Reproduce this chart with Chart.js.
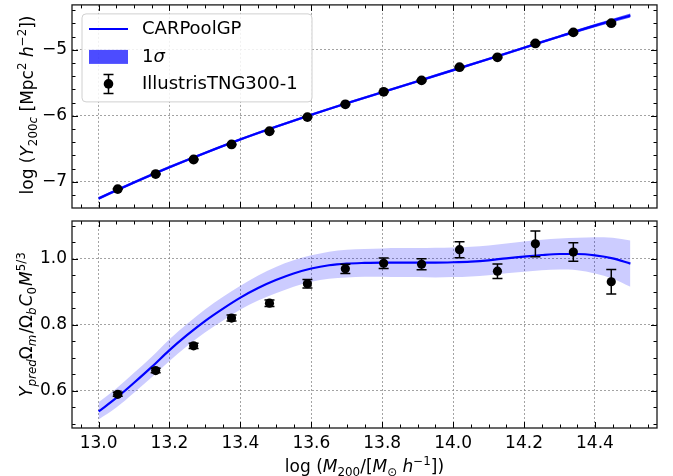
<!DOCTYPE html>
<html><head><meta charset="utf-8">
<script src="https://cdn.jsdelivr.net/npm/chart.js@4/dist/chart.umd.min.js"></script>
<style>
html,body{margin:0;padding:0;background:#fff;}
#wrap{position:relative;width:673px;height:476px;background:#fff;}
#c1{position:absolute;left:0;top:0;}
#c2{position:absolute;left:0;top:215px;}
</style></head><body>
<div id="wrap"><canvas id="c1" width="673" height="215"></canvas><canvas id="c2" width="673" height="261"></canvas></div>
<script>
// ---------------- data ----------------
const massBins = [13.054, 13.161, 13.268, 13.375, 13.482, 13.589, 13.696, 13.804, 13.911, 14.018, 14.125, 14.232, 14.339, 14.446];
const tngLogY = [-7.109, -6.881, -6.661, -6.433, -6.233, -6.019, -5.825, -5.636, -5.463, -5.263, -5.113, -4.904, -4.736, -4.597];
const tngLogYErr = [0.004, 0.005, 0.005, 0.005, 0.005, 0.006, 0.006, 0.007, 0.008, 0.010, 0.010, 0.016, 0.012, 0.017];
const tngRatio = [0.589, 0.661, 0.736, 0.820, 0.865, 0.924, 0.969, 0.986, 0.983, 1.027, 0.962, 1.045, 1.020, 0.930];
const tngRatioErr = [0.006, 0.007, 0.008, 0.009, 0.010, 0.013, 0.014, 0.016, 0.017, 0.024, 0.022, 0.039, 0.028, 0.037];

const gpMassTop = [13.0, 13.1, 13.2, 13.3, 13.4, 13.5, 13.6, 13.7, 13.8, 13.9, 14.0, 14.1, 14.2, 14.3, 14.4, 14.5];
const gpLogY = [-7.250, -7.008, -6.777, -6.561, -6.356, -6.165, -5.983, -5.810, -5.642, -5.476, -5.308, -5.139, -4.968, -4.798, -4.633, -4.480];
const gpLogYLow = [-7.273, -7.029, -6.797, -6.580, -6.374, -6.183, -6.001, -5.829, -5.661, -5.495, -5.328, -5.159, -4.988, -4.818, -4.657, -4.511];
const gpLogYHigh = [-7.227, -6.987, -6.757, -6.542, -6.338, -6.147, -5.965, -5.791, -5.623, -5.457, -5.288, -5.119, -4.948, -4.778, -4.609, -4.449];

const gpMass = [13.0, 13.05, 13.1, 13.15, 13.2, 13.25, 13.3, 13.35, 13.4, 13.45, 13.5, 13.55, 13.6, 13.65, 13.7, 13.75, 13.8, 13.85, 13.9, 13.95, 14.0, 14.05, 14.1, 14.15, 14.2, 14.25, 14.3, 14.35, 14.4, 14.45, 14.5];
const gpRatio = [0.537, 0.578, 0.624, 0.672, 0.723, 0.769, 0.811, 0.848, 0.882, 0.911, 0.935, 0.955, 0.970, 0.980, 0.985, 0.987, 0.988, 0.988, 0.988, 0.988, 0.989, 0.991, 0.995, 1.001, 1.006, 1.011, 1.014, 1.014, 1.010, 1.001, 0.985];
const gpRatioLow = [0.513, 0.549, 0.594, 0.641, 0.690, 0.735, 0.776, 0.812, 0.846, 0.873, 0.895, 0.915, 0.930, 0.939, 0.943, 0.945, 0.945, 0.944, 0.944, 0.943, 0.944, 0.946, 0.950, 0.956, 0.960, 0.965, 0.967, 0.965, 0.955, 0.939, 0.915];
const gpRatioHigh = [0.565, 0.607, 0.654, 0.703, 0.756, 0.803, 0.846, 0.884, 0.918, 0.949, 0.975, 0.995, 1.010, 1.021, 1.027, 1.029, 1.031, 1.032, 1.032, 1.033, 1.034, 1.036, 1.040, 1.046, 1.052, 1.057, 1.061, 1.063, 1.065, 1.063, 1.055];

const xMajorTicks = [13.0, 13.2, 13.4, 13.6, 13.8, 14.0, 14.2, 14.4];
const xTickLabels = ['13.0', '13.2', '13.4', '13.6', '13.8', '14.0', '14.2', '14.4'];
const topYTicks = [-7, -6, -5];
const topYTickLabels = ['\u22127', '\u22126', '\u22125'];
const botYTicks = [0.6, 0.8, 1.0];
const botYTickLabels = ['0.6', '0.8', '1.0'];

const legendLabels = ['CARPoolGP', '1', '\u03c3', 'IllustrisTNG300-1'];

// ---------------- helpers ----------------
const FONT = '"DejaVu Sans", sans-serif';
Chart.defaults.color = '#000';
Chart.defaults.font.family = FONT;

function pts(xs, ys) { return xs.map((x, i) => ({x: x, y: ys[i]})); }

function segFont(s, F) {
  const size = s.s ? F * 0.7 : F;
  return (s.i ? 'italic ' : '') + size.toFixed(1) + 'px ' + FONT;
}
function drawRich(ctx, segs, cx, cy, F, rot) {
  ctx.save();
  ctx.translate(cx, cy);
  if (rot) ctx.rotate(-Math.PI / 2);
  let w = 0;
  for (const s of segs) { ctx.font = segFont(s, F); w += ctx.measureText(s.t).width + (s.g || 0); }
  let x = -w / 2;
  ctx.textBaseline = 'alphabetic';
  ctx.textAlign = 'left';
  ctx.fillStyle = '#000';
  const base = F * 0.36;
  for (const s of segs) {
    ctx.font = segFont(s, F);
    let dy = 0;
    if (s.s === 'sub') dy = F * 0.22;
    if (s.s === 'sup') dy = -F * 0.42;
    ctx.fillText(s.t, x, base + dy);
    x += ctx.measureText(s.t).width + (s.g || 0);
  }
  ctx.restore();
}

function rangeVals(min, max, step) {
  const out = [];
  const start = Math.ceil(min / step - 1e-9);
  for (let k = start; k * step <= max + 1e-9; k++) out.push(+(k * step).toFixed(6));
  return out;
}

const decorPlugin = {
  id: 'decor',
  beforeDatasetDraw(chart, args, opts) {
    if (args.index !== opts.pointsIndex) return;
    const ctx = chart.ctx, xs = chart.scales.x, ys = chart.scales.y;
    ctx.save();
    ctx.strokeStyle = '#000';
    ctx.lineWidth = 1.5;
    opts.ex.forEach((xv, i) => {
      const px = xs.getPixelForValue(xv);
      const p1 = ys.getPixelForValue(opts.ey[i] - opts.err[i]);
      const p2 = ys.getPixelForValue(opts.ey[i] + opts.err[i]);
      ctx.beginPath();
      ctx.moveTo(px, p1); ctx.lineTo(px, p2);
      ctx.moveTo(px - 5, p1); ctx.lineTo(px + 5, p1);
      ctx.moveTo(px - 5, p2); ctx.lineTo(px + 5, p2);
      ctx.stroke();
    });
    ctx.restore();
  },
  afterDraw(chart, args, opts) {
    const ctx = chart.ctx, a = chart.chartArea, xs = chart.scales.x, ys = chart.scales.y;
    ctx.save();
    ctx.strokeStyle = '#000';
    ctx.lineWidth = 1;
    const tick = (vals, len, axis) => {
      vals.forEach(v => {
        if (axis === 'x') {
          const p = Math.round(xs.getPixelForValue(v)) + 0.5;
          if (p < a.left || p > a.right) return;
          ctx.beginPath();
          ctx.moveTo(p, a.bottom); ctx.lineTo(p, a.bottom - len);
          ctx.moveTo(p, a.top); ctx.lineTo(p, a.top + len);
          ctx.stroke();
        } else {
          const p = Math.round(ys.getPixelForValue(v)) + 0.5;
          if (p < a.top || p > a.bottom) return;
          ctx.beginPath();
          ctx.moveTo(a.left, p); ctx.lineTo(a.left + len, p);
          ctx.moveTo(a.right, p); ctx.lineTo(a.right - len, p);
          ctx.stroke();
        }
      });
    };
    tick(rangeVals(xs.min, xs.max, 0.05), 3.5, 'x');
    tick(xMajorTicks, 6, 'x');
    tick(rangeVals(ys.min, ys.max, opts.yMinorStep), 3.5, 'y');
    tick(opts.yMajor, 6, 'y');
    ctx.strokeStyle = '#1a1a1a';
    ctx.lineWidth = 1.3;
    ctx.strokeRect(a.left, a.top, a.right - a.left, a.bottom - a.top);
    if (opts.yTitle) drawRich(ctx, opts.yTitle, opts.yTitlePos[0], opts.yTitlePos[1], 17, true);
    if (opts.xTitle) drawRich(ctx, opts.xTitle, opts.xTitlePos[0], opts.xTitlePos[1], 17, false);
    if (opts.legend) {
      const L = a.left + 10, T = a.top + 9, W = 230, H = 88, r = 4;
      ctx.beginPath();
      ctx.moveTo(L + r, T); ctx.lineTo(L + W - r, T); ctx.quadraticCurveTo(L + W, T, L + W, T + r);
      ctx.lineTo(L + W, T + H - r); ctx.quadraticCurveTo(L + W, T + H, L + W - r, T + H);
      ctx.lineTo(L + r, T + H); ctx.quadraticCurveTo(L, T + H, L, T + H - r);
      ctx.lineTo(L, T + r); ctx.quadraticCurveTo(L, T, L + r, T);
      ctx.closePath();
      ctx.fillStyle = 'rgba(255,255,255,0.85)';
      ctx.fill();
      ctx.strokeStyle = '#d0d0d0';
      ctx.lineWidth = 1;
      ctx.stroke();
      const hx1 = L + 7, hx2 = L + 46, tx = L + 60;
      const r1 = T + 15, r2 = T + 43, r3 = T + 70;
      ctx.strokeStyle = '#0000ff'; ctx.lineWidth = 2;
      ctx.beginPath(); ctx.moveTo(hx1, r1); ctx.lineTo(hx2, r1); ctx.stroke();
      ctx.fillStyle = 'rgba(0,0,255,0.7)';
      ctx.fillRect(hx1, r2 - 7, hx2 - hx1, 14);
      const mx = (hx1 + hx2) / 2;
      ctx.strokeStyle = '#000'; ctx.lineWidth = 1.5;
      ctx.beginPath();
      ctx.moveTo(mx, r3 - 9.5); ctx.lineTo(mx, r3 + 9.5);
      ctx.moveTo(mx - 5, r3 - 9.5); ctx.lineTo(mx + 5, r3 - 9.5);
      ctx.moveTo(mx - 5, r3 + 9.5); ctx.lineTo(mx + 5, r3 + 9.5);
      ctx.stroke();
      ctx.fillStyle = '#000';
      ctx.beginPath(); ctx.arc(mx, r3, 4.8, 0, Math.PI * 2); ctx.fill();
      ctx.font = '18px ' + FONT;
      ctx.textBaseline = 'middle'; ctx.textAlign = 'left';
      ctx.fillText(legendLabels[0], tx, r1);
      ctx.fillText(legendLabels[1], tx, r2);
      const w1 = ctx.measureText(legendLabels[1]).width;
      ctx.font = 'italic 18px ' + FONT;
      ctx.fillText(legendLabels[2], tx + w1, r2);
      ctx.font = '18px ' + FONT;
      ctx.fillText(legendLabels[3], tx, r3);
    }
    ctx.restore();
  }
};

function makeOptions(cfg) {
  return {
    responsive: false,
    animation: false,
    devicePixelRatio: 1,
    layout: {padding: {left: 0, right: 16, top: cfg.padTop, bottom: 0}},
    plugins: {
      legend: {display: false},
      tooltip: {enabled: false},
      decor: cfg.decor
    },
    scales: {
      x: {
        type: 'linear', min: 12.925, max: 14.575,
        afterBuildTicks: s => { s.ticks = xMajorTicks.map(v => ({value: v})); },
        afterFit: s => { s.height = cfg.xHeight; s.paddingLeft = 0; s.paddingRight = 0; s.paddingTop = 0; s.paddingBottom = 0; },
        ticks: {display: cfg.xLabels, padding: 5, font: {size: 17, family: FONT}, color: '#000',
                callback: (v, i) => xTickLabels[i]},
        grid: {color: '#8c8c8c', lineWidth: 0.8, drawTicks: false},
        border: {display: false, dash: [2, 2]}
      },
      y: {
        type: 'linear', min: cfg.yMin, max: cfg.yMax,
        afterBuildTicks: s => { s.ticks = cfg.yTicks.map(v => ({value: v})); },
        afterFit: s => { s.width = 72; s.paddingTop = 0; s.paddingBottom = 0; s.paddingLeft = 0; s.paddingRight = 0; },
        ticks: {padding: 5, font: {size: 17, family: FONT}, color: '#000',
                callback: (v, i) => cfg.yLabels[i]},
        grid: {color: '#8c8c8c', lineWidth: 0.8, drawTicks: false},
        border: {display: false, dash: [2, 2]}
      }
    }
  };
}

// ---------------- top panel ----------------
new Chart(document.getElementById('c1'), {
  type: 'line',
  data: {
    datasets: [
      {data: pts(gpMassTop, gpLogYLow), borderWidth: 0, pointRadius: 0, fill: false, order: 3, cubicInterpolationMode: 'monotone'},
      {data: pts(gpMassTop, gpLogYHigh), borderWidth: 0, pointRadius: 0, fill: '-1', backgroundColor: 'rgba(0,0,255,0.7)', order: 3, cubicInterpolationMode: 'monotone'},
      {data: pts(gpMassTop, gpLogY), borderColor: '#0000ff', borderWidth: 2.2, pointRadius: 0, fill: false, order: 2, cubicInterpolationMode: 'monotone'},
      {data: pts(massBins, tngLogY), showLine: false, pointRadius: 4.9, pointBackgroundColor: '#000', pointBorderWidth: 0, order: 1}
    ]
  },
  options: makeOptions({
    padTop: 2, xHeight: 7, xLabels: false,
    yMin: -7.395, yMax: -4.32, yTicks: topYTicks, yLabels: topYTickLabels,
    decor: {
      pointsIndex: 3, ex: massBins, ey: tngLogY, err: tngLogYErr,
      yMajor: topYTicks, yMinorStep: 0.2, legend: true,
      yTitle: [{t: 'log ('}, {t: 'Y', i: true}, {t: '200', s: 'sub'}, {t: 'c', s: 'sub', i: true},
               {t: ' [Mpc'}, {t: '2', s: 'sup'}, {t: ' '}, {t: 'h', i: true}, {t: '\u22122', s: 'sup'}, {t: '])'}],
      yTitlePos: [27, 105]
    }
  }),
  plugins: [decorPlugin]
});

// ---------------- bottom panel ----------------
new Chart(document.getElementById('c2'), {
  type: 'line',
  data: {
    datasets: [
      {data: pts(gpMass, gpRatioLow), borderWidth: 0, pointRadius: 0, fill: false, order: 3, cubicInterpolationMode: 'monotone'},
      {data: pts(gpMass, gpRatioHigh), borderWidth: 0, pointRadius: 0, fill: '-1', backgroundColor: 'rgba(0,0,255,0.2)', order: 3, cubicInterpolationMode: 'monotone'},
      {data: pts(gpMass, gpRatio), borderColor: '#0000ff', borderWidth: 2.2, pointRadius: 0, fill: false, order: 2, cubicInterpolationMode: 'monotone'},
      {data: pts(massBins, tngRatio), showLine: false, pointRadius: 4.6, pointBackgroundColor: '#000', pointBorderWidth: 0, order: 1}
    ]
  },
  options: makeOptions({
    padTop: 6, xHeight: 48, xLabels: true,
    yMin: 0.487, yMax: 1.114, yTicks: botYTicks, yLabels: botYTickLabels,
    decor: {
      pointsIndex: 3, ex: massBins, ey: tngRatio, err: tngRatioErr,
      yMajor: botYTicks, yMinorStep: 0.05, legend: false,
      yTitle: [{t: 'Y', i: true}, {t: 'pred', s: 'sub', i: true}, {t: '\u03a9'}, {t: 'm', s: 'sub', i: true, g: 1},
               {t: '/\u03a9'}, {t: 'b', s: 'sub', i: true, g: 1}, {t: 'C', i: true}, {t: '0', s: 'sub', g: 1},
               {t: 'M', i: true}, {t: '5/3', s: 'sup'}],
      yTitlePos: [26, 109.5],
      xTitle: [{t: 'log ('}, {t: 'M', i: true}, {t: '200', s: 'sub'}, {t: '/['}, {t: 'M', i: true},
               {t: '\u2299', s: 'sub'}, {t: ' '}, {t: 'h', i: true}, {t: '\u22121', s: 'sup'}, {t: '])'}],
      xTitlePos: [364.5, 250.7]
    }
  }),
  plugins: [decorPlugin]
});
</script>
</body></html>
